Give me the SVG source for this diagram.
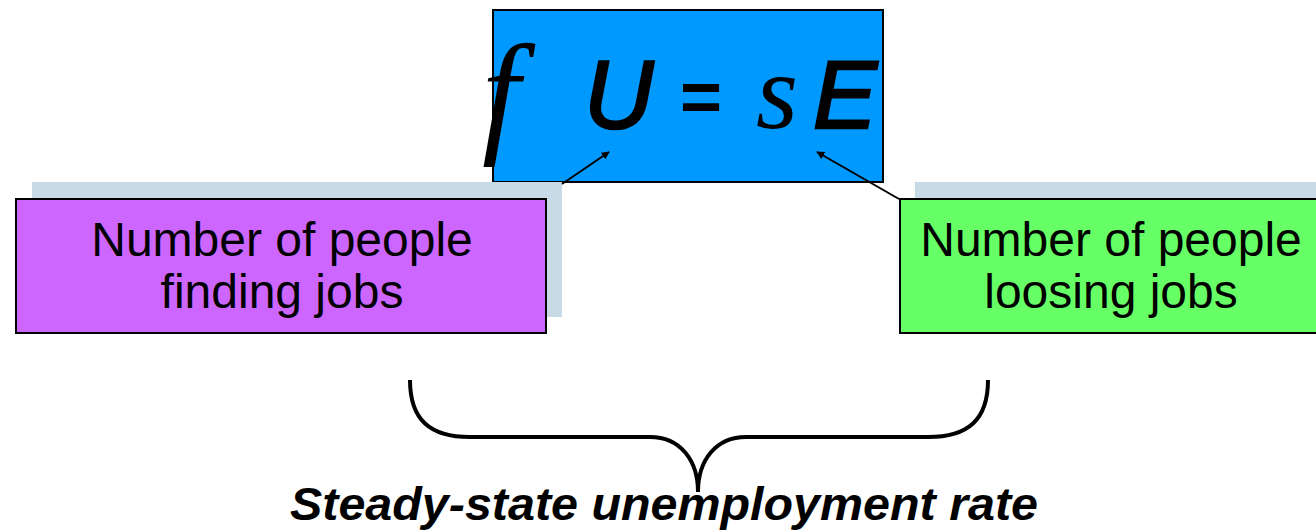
<svg xmlns="http://www.w3.org/2000/svg" width="1316" height="532" viewBox="0 0 1316 532">
<style>
.lbl{font-family:"Liberation Sans",Arial,sans-serif;font-size:48px;fill:#000;text-anchor:middle}
.box{stroke:#000;stroke-width:2}
.shadow{fill:#C9DAE7}
.eqs{font-family:"Liberation Sans",Arial,sans-serif;font-style:italic;font-size:96px;fill:#000;stroke:#000;stroke-width:2.5}
.eqr{font-family:"Liberation Serif","Times New Roman",serif;font-style:italic;fill:#000}
.conn{stroke:#000;stroke-width:2;fill:none}
.brace{stroke:#000;stroke-width:4;fill:none}
</style>
<defs>
<marker id="ah" viewBox="0 0 10 10" refX="9" refY="5" markerWidth="8" markerHeight="8" orient="auto" markerUnits="userSpaceOnUse">
<path d="M0,0 L10,5 L0,10 z" fill="#000"/>
</marker>
</defs>
<g id="equation">
<rect class="box" x="493" y="10" width="390" height="172" fill="#0099FF"/>
<text class="eqr" x="482" y="138" font-size="136">f</text>
<text class="eqs" x="584" y="128">U</text>
<text x="680" y="121" font-family="Liberation Sans,Arial,sans-serif" font-weight="bold" font-size="72" fill="#000">=</text>
<text class="eqr" x="756" y="128" font-size="108">s</text>
<text class="eqs" x="813" y="128">E</text>
</g>
<g id="finding">
<rect class="shadow" x="32" y="182" width="530" height="135"/>
<rect class="box" x="16" y="199" width="530" height="134" fill="#CC66FF"/>
<text class="lbl" x="282" y="256">Number of people</text>
<text class="lbl" x="282" y="308">finding jobs</text>
</g>
<g id="losing">
<rect class="shadow" x="915" y="182" width="420" height="135"/>
<rect class="box" x="900" y="199" width="430" height="134" fill="#66FF66"/>
<text class="lbl" x="1111" y="256">Number of people</text>
<text class="lbl" x="1111" y="308">loosing jobs</text>
</g>
<g id="connectors">
<line class="conn" x1="562" y1="184" x2="609" y2="152" marker-end="url(#ah)"/>
<line class="conn" x1="899" y1="199" x2="817" y2="152" marker-end="url(#ah)"/>
<path class="brace" d="M410,380 C410,420 430,437 470,437 L650,437 C680,437 698,460 698,492 C698,460 716,437 746,437 L928,437 C968,437 988,420 988,380"/>
</g>
<g id="caption">
<text x="290" y="520" font-family="Liberation Sans,Arial,sans-serif" font-weight="bold" font-style="italic" font-size="46" textLength="748" lengthAdjust="spacingAndGlyphs" fill="#000">Steady-state unemployment rate</text>
</g>
</svg>
